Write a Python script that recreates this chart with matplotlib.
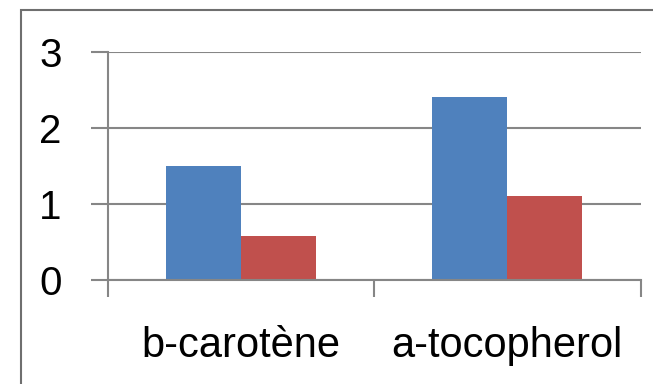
import matplotlib
matplotlib.use('Agg')
from matplotlib import pyplot as plt
from matplotlib.patches import Rectangle
import numpy as np

categories = ['b-carotène', 'a-tocopherol']
series1 = [1.5, 2.4]
series2 = [0.58, 1.1]
y_ticks = [0, 1, 2, 3]

plt.rcParams['font.family'] = ['Liberation Sans', 'DejaVu Sans']

fig = plt.figure(figsize=(6.53, 3.84), dpi=100)
# borde del grafico
fig.patches.append(Rectangle((21 / 653, -0.1), 1.1, 1 - 10 / 384 + 0.1, transform=fig.transFigure,
                             fill=False, edgecolor='#6f6f6f', linewidth=1.5))

ax = fig.add_axes([107.5 / 653, 1 - 280 / 384, 533 / 653, 228.3 / 384])
x = np.arange(len(categories))
w = 0.281
ax.bar(x - w / 2, series1, w, color='#4F81BD', zorder=3)
ax.bar(x + w / 2, series2, w, color='#C0504D', zorder=3)

ax.set_xlim(-0.5, 1.5)
ax.set_ylim(0, 3)
ax.set_yticks(y_ticks)
ax.set_yticklabels([str(v) for v in y_ticks], fontsize=29)
ax.yaxis.grid(True, color='#868686', linewidth=1.5, zorder=0)

# ticks de categoria en los bordes
ax.set_xticks([-0.5, 0.5, 1.5])
ax.set_xticklabels([])
ax.set_xticks(x, minor=True)
ax.set_xticklabels(categories, minor=True, fontsize=30)
ax.tick_params(axis='x', which='major', length=12, width=1.5, color='#868686', direction='out')
ax.tick_params(axis='x', which='minor', length=0, pad=33)
ax.tick_params(axis='y', length=12, width=1.5, color='#868686', pad=21)

for s in ['top', 'right']:
    ax.spines[s].set_visible(False)
for s in ['left', 'bottom']:
    ax.spines[s].set_color('#868686')
    ax.spines[s].set_linewidth(1.5)
    ax.spines[s].set_zorder(4)

fig.savefig('out.png', dpi=100)
